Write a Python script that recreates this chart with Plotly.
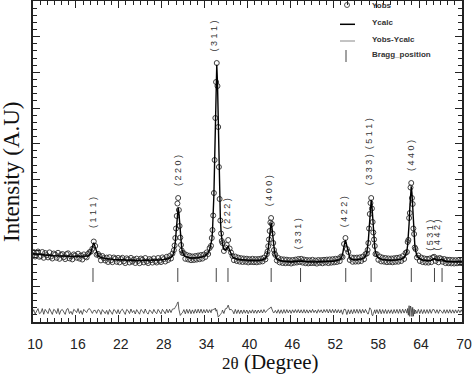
import numpy as np
import plotly.graph_objects as go

# ---------------- data ----------------
# scan grid: (start, stop, step) in degrees 2theta
scan_segments = [
    (9.9, 29.7, 0.2), (29.8, 30.8, 0.1), (30.9, 34.9, 0.2), (35.0, 36.4, 0.1),
    (36.5, 42.7, 0.2), (42.8, 43.8, 0.1), (43.9, 56.7, 0.2), (56.8, 57.8, 0.1),
    (57.9, 62.3, 0.2), (62.4, 63.4, 0.1), (63.5, 70.1, 0.2),
]

y_calc = [
    # 9.9 - 29.7
    68.4, 68.2, 68.0, 67.8, 67.6, 67.4, 67.2, 67.1, 67.0, 66.9, 66.8,
    66.7, 66.6, 66.5, 66.4, 66.4, 66.3, 66.3, 66.2, 66.1, 66.0,
    66.0, 65.9, 65.8, 65.8, 65.7, 65.7, 65.6, 65.6, 65.5, 65.5,
    65.4, 65.4,
    65.4, 65.5, 65.4, 65.5, 65.5, 65.7, 66.0, 66.9, 69.6, 75.1,
    79.4, 74.9, 69.2, 66.2, 65.1, 64.5, 64.1, 63.9, 63.6, 63.3,
    62.9, 62.8, 62.7, 62.6, 62.5, 62.4, 62.3, 62.2, 62.1, 62.0,
    61.9, 61.8, 61.8, 61.7, 61.7, 61.6, 61.6, 61.5, 61.5,
    61.5, 61.5, 61.5, 61.5, 61.5, 61.5, 61.5, 61.5, 61.5, 61.5, 61.5, 61.5, 61.5, 61.5, 61.5,
    61.7, 61.9, 62.0, 62.2, 62.4, 62.5, 62.7, 62.9, 63.3, 63.8, 64.6, 66.0, 69.5,
    # 29.8 - 30.8
    73.7, 79.7, 88.4, 99.3, 109.7, 114.4, 109.7, 99.3, 88.4, 79.7, 73.7,
    # 30.9 - 34.9
    70.3, 66.9, 65.5, 64.8, 64.3, 64.1, 64.0, 63.9, 63.9, 63.9, 64.0, 64.2, 64.4, 64.7,
    65.1, 65.6, 66.4, 67.5, 69.3, 72.2, 77.4,
    # 35.0 - 36.4
    82.1, 90.5, 104.5, 127.2, 159.7, 200.5, 239.7, 257.2, 239.9, 200.6, 159.8, 127.3,
    104.6, 90.6, 82.3,
    # 36.5 - 42.7
    77.6, 73.0, 71.8, 73.9, 75.6, 71.8, 67.4, 65.1, 64.1, 63.4, 63.0, 62.7, 62.5, 62.3,
    62.0, 61.9, 61.9, 61.8, 61.7, 61.6, 61.6, 61.5, 61.5, 61.4, 61.5, 61.5, 61.6, 61.7,
    62.1, 62.5, 63.6, 66.2,
    # 42.8 - 43.8
    68.9, 73.4, 79.9, 88.1, 95.9, 99.4, 95.9, 88.1, 79.9, 73.4, 68.9,
    # 43.9 - 56.7
    65.9, 63.2, 62.2, 61.5, 61.1, 60.9, 60.7, 60.5, 60.4, 60.4,
    60.3, 60.3, 60.3, 60.4, 60.5, 60.7, 61.1, 61.5, 61.5, 61.0,
    60.6, 60.4, 60.3,
    60.2, 60.2, 60.1, 60.1, 60.1, 60.1, 60.1, 60.1, 60.1, 60.2, 60.2, 60.2, 60.3, 60.3,
    60.4, 60.5, 60.6, 60.7, 60.9, 61.1, 61.4, 61.6, 62.3, 63.8,
    67.8, 75.8, 82.0, 76.0, 68.2, 64.3,
    62.8, 62.4, 62.2, 62.1, 62.2, 62.3, 62.5, 62.8, 63.3, 64.2, 65.8, 69.9,
    # 56.8 - 57.8
    74.3, 81.4, 91.6, 104.3, 116.6, 122.1, 116.6, 104.3, 91.6, 81.4, 74.3,
    # 57.9 - 62.3
    70.0, 65.9, 64.3, 63.3, 62.8, 62.5, 62.2, 62.0, 61.9, 61.9, 61.8, 61.7, 61.8, 61.8,
    61.9, 62.1, 62.2, 62.4, 62.8, 63.5, 64.6, 66.7, 71.7,
    # 62.4 - 63.4
    77.0, 85.7, 98.2, 113.9, 129.0, 135.7, 129.0, 113.9, 98.2, 85.7, 77.0,
    # 63.5 - 70.1
    71.5, 66.4, 64.4, 63.1, 62.5, 62.0, 61.7, 61.4, 61.3, 61.3, 61.4, 61.6, 62.6, 63.4,
    62.7, 61.8, 61.6, 62.2, 62.7, 62.0, 61.2, 60.7, 60.5, 60.5, 60.3, 60.3, 60.3, 60.2,
    60.2, 60.2, 60.2, 60.1, 60.1, 60.1,
]

y_obs = [
    # 9.9 - 29.7
    67.0, 70.0, 65.5, 69.0, 70.5, 65.2, 66.0, 70.0, 64.2, 69.0, 66.8,
    64.6, 69.6, 65.4, 63.5, 68.5, 67.4, 64.2, 69.2, 63.2, 67.1,
    68.0, 64.8, 62.9, 67.9, 68.7, 63.6, 65.7, 62.6, 67.6, 66.5,
    64.3, 68.3,
    63.4, 66.5, 62.5, 67.6, 65.4, 64.6, 68.1, 69.8, 70.4, 73.2,
    80.5, 76.0, 67.3, 68.1, 66.0, 61.6, 66.0, 63.8, 61.5, 64.4,
    60.0, 64.8, 61.6, 59.8, 64.5, 63.3, 60.2, 64.1, 59.6, 63.0,
    64.2, 60.7, 58.9, 63.7, 62.6, 59.5, 64.1, 60.4, 62.5,
    59.0, 63.4, 61.0, 58.8, 63.5, 62.2, 59.6, 64.0, 60.5, 58.9, 63.0, 61.8, 59.4, 63.6, 60.8,
    59.5, 64.0, 61.2, 59.9, 64.6, 63.0, 60.5, 65.2, 62.0, 66.0, 63.5, 68.4, 71.8,
    # 29.8 - 30.8
    76.5, 84.0, 93.5, 106.0, 118.5, 124.0, 112.0, 96.0, 84.5, 77.0, 71.5,
    # 30.9 - 34.9
    69.0, 68.8, 63.2, 67.0, 62.5, 66.2, 61.8, 65.5, 62.0, 66.0, 62.4, 66.5, 62.8, 67.0,
    63.4, 67.5, 65.0, 69.6, 68.0, 74.0, 76.2,
    # 35.0 - 36.4
    84.0, 92.0, 106.5, 129.0, 162.0, 204.0, 240.0, 259.0, 236.0, 195.0, 155.0, 123.0,
    101.5, 88.5, 81.0,
    # 36.5 - 42.7
    79.0, 71.0, 74.5, 77.0, 82.0, 73.5, 69.5, 66.0, 61.8, 65.5, 61.0, 64.4, 60.4, 63.8,
    60.0, 63.5, 60.2, 63.3, 59.6, 62.8, 60.0, 63.2, 59.8, 62.9, 59.7, 63.0, 60.2, 63.4,
    60.6, 64.4, 62.6, 67.8,
    # 42.8 - 43.8
    70.5, 75.8, 82.5, 91.0, 99.5, 104.0, 98.0, 88.5, 79.0, 72.0, 68.5,
    # 43.9 - 56.7
    67.0, 61.5, 64.0, 59.6, 62.8, 59.0, 62.6, 58.8, 62.3, 59.0,
    61.9, 58.5, 62.0, 59.2, 62.4, 59.5, 63.0, 60.0, 63.2, 59.4,
    62.5, 58.8, 62.0,
    58.6, 61.8, 58.9, 62.2, 59.0, 61.5, 58.4, 62.0, 59.2, 61.9, 58.7, 62.2, 59.5, 62.4,
    58.9, 62.6, 59.3, 62.8, 59.6, 63.2, 60.0, 63.5, 60.8, 65.5,
    65.0, 78.0, 84.0, 73.0, 70.0, 62.0,
    64.6, 60.2, 64.3, 60.4, 64.4, 60.5, 64.6, 61.0, 65.4, 62.8, 67.9, 68.5,
    # 56.8 - 57.8
    72.0, 79.0, 93.5, 108.0, 119.0, 124.0, 113.5, 100.0, 89.5, 82.5, 76.0,
    # 57.9 - 62.3
    68.0, 67.8, 62.2, 65.5, 60.6, 64.4, 60.3, 64.0, 59.8, 63.6, 60.0, 63.5, 59.7, 63.8,
    60.2, 64.2, 60.3, 64.6, 61.0, 65.8, 63.0, 69.0, 70.0,
    # 62.4 - 63.4
    80.0, 82.0, 104.0, 109.0, 134.5, 139.0, 124.0, 118.0, 93.5, 88.0, 74.5,
    # 63.5 - 70.1
    73.0, 64.5, 66.5, 61.0, 64.5, 59.9, 63.6, 59.5, 63.2, 59.4, 63.5, 59.8, 64.5, 65.2,
    61.0, 63.6, 59.7, 64.0, 63.0, 60.2, 63.0, 58.9, 62.3, 58.8, 62.2, 58.6, 62.0, 58.5,
    61.9, 58.7, 62.0, 59.0, 61.8, 58.6,
]

diff_offset = 10.5
bragg_pos = [18.39, 30.25, 35.63, 37.27, 43.31, 47.42, 53.74, 57.29, 62.91, 66.15, 67.21]
bragg_level = 47

hkl_labels = ["( 1 1 1 )", "( 2 2 0 )", "( 3 1 1 )", "( 2 2 2 )", "( 4 0 0 )", "( 3 3 1 )",
              "( 4 2 2 )", "( 3 3 3 )  ( 5 1 1 )", "( 4 4 0 )", "( 5 3 1 )", "( 4 4 2 )"]
hkl_x = [18.39, 30.28, 35.26, 37.17, 43.05, 47.1, 53.54, 57.03, 62.87, 65.5, 66.45]
hkl_y = [110, 151, 286, 108, 131, 88, 110, 170, 166, 87, 87]

x_ticks = [10, 16, 22, 28, 34, 40, 46, 52, 58, 64, 70]

# ---------------- build ----------------
two_theta = np.concatenate([np.round(np.arange(a, b + s / 2, s), 2) for a, b, s in scan_segments])
y_calc = np.array(y_calc)
y_obs = np.array(y_obs)
assert len(two_theta) == len(y_calc) == len(y_obs), (len(two_theta), len(y_calc), len(y_obs))
y_diff = y_obs - y_calc + diff_offset

ink = "#2a2a2a"
fig = go.Figure()
fig.add_trace(go.Scatter(x=two_theta, y=y_obs, mode="markers", name="Yobs",
                         marker=dict(symbol="circle-open", size=5, color=ink, line=dict(width=0.9, color=ink))))
fig.add_trace(go.Scatter(x=two_theta, y=y_calc, mode="lines", name="Ycalc",
                         line=dict(color="black", width=1.4)))
fig.add_trace(go.Scatter(x=two_theta, y=y_diff, mode="lines", name="Yobs-Ycalc",
                         line=dict(color="#333333", width=0.8)))
fig.add_trace(go.Scatter(x=bragg_pos, y=[bragg_level] * len(bragg_pos), mode="markers", name="Bragg_position",
                         marker=dict(symbol="line-ns", size=10, line=dict(width=1, color="#444444"))))

annotations = []
for t, x, y in zip(hkl_labels, hkl_x, hkl_y):
    annotations.append(dict(x=x, y=y, xref="x", yref="y", text=t, textangle=-90, showarrow=False,
                            font=dict(family="Liberation Sans, Arial", size=9, color="#333333"),
                            xanchor="center", yanchor="middle"))

# manual legend (plot-area pixel geometry: x 33..462, y 1..322)
def px(xp):
    return (xp - 33) / 429.0
def py(yp):
    return (322 - yp) / 321.0

leg_font = dict(family="Liberation Sans, Arial", size=8, color="#333333")
for txt, yy in [("Yobs", 5.5), ("Ycalc", 22.5), ("Yobs-Ycalc", 39), ("Bragg_position", 54)]:
    annotations.append(dict(x=px(370), y=py(yy), xref="paper", yref="paper", text="<b>%s</b>" % txt,
                            showarrow=False, xanchor="left", yanchor="middle", font=leg_font))

annotations.append(dict(x=px(12), y=py(172), xref="paper", yref="paper", text="Intensity (A.U)",
                        textangle=-90, showarrow=False, xanchor="center", yanchor="middle",
                        font=dict(family="Liberation Serif, Times New Roman", size=23, color="#111111")))
annotations.append(dict(x=px(270), y=py(362), xref="paper", yref="paper",
                        text="<span style='font-size:17px'>2θ</span> (Degree)",
                        showarrow=False, xanchor="center", yanchor="middle",
                        font=dict(family="Liberation Serif, Times New Roman", size=21, color="#111111")))

shapes = [
    dict(type="circle", xref="paper", yref="paper", x0=px(344.5), x1=px(349.5), y0=py(7.5), y1=py(2.5),
         line=dict(color=ink, width=0.8)),
    dict(type="line", xref="paper", yref="paper", x0=px(340), x1=px(355), y0=py(24.3), y1=py(24.3),
         line=dict(color="black", width=1.5)),
    dict(type="line", xref="paper", yref="paper", x0=px(340), x1=px(355), y0=py(41), y1=py(41),
         line=dict(color="#888888", width=1)),
    dict(type="line", xref="paper", yref="paper", x0=px(346), x1=px(346), y0=py(50), y1=py(62),
         line=dict(color="#444444", width=1)),
]

fig.update_layout(
    width=474, height=375, margin=dict(l=33, r=12, t=1, b=53),
    paper_bgcolor="white", plot_bgcolor="white", showlegend=False,
    annotations=annotations, shapes=shapes,
)
fig.update_xaxes(range=[10, 70], tickmode="array", tickvals=x_ticks, ticks="inside", ticklen=7,
                 tickwidth=1.2, tickcolor="#222222", showline=True, linewidth=1.5, linecolor="#222222",
                 mirror="ticks", showgrid=False, zeroline=False, automargin=False,
                 tickfont=dict(family="Liberation Sans, Arial", size=14, color="#222222"),
                 ticklabelstandoff=8, ticklabelshift=2,
                 minor=dict(dtick=1, tick0=10, ticks="inside", ticklen=4, tickwidth=1, tickcolor="#222222",
                            showgrid=False))
fig.update_yaxes(range=[0, 321], tick0=0, dtick=321 / 9, ticks="inside", ticklen=7, tickwidth=1.2,
                 tickcolor="#222222", showline=True, linewidth=1.5, linecolor="#222222", mirror="ticks",
                 showgrid=False, zeroline=False, showticklabels=False, automargin=False,
                 minor=dict(dtick=321 / 45, tick0=0, ticks="inside", ticklen=4, tickwidth=1,
                            tickcolor="#222222", showgrid=False))

fig.write_html("out.html", config={"displayModeBar": False},
               post_script="document.body.style.margin='0';document.body.style.padding='0';"
                           "document.documentElement.style.overflow='hidden';")
